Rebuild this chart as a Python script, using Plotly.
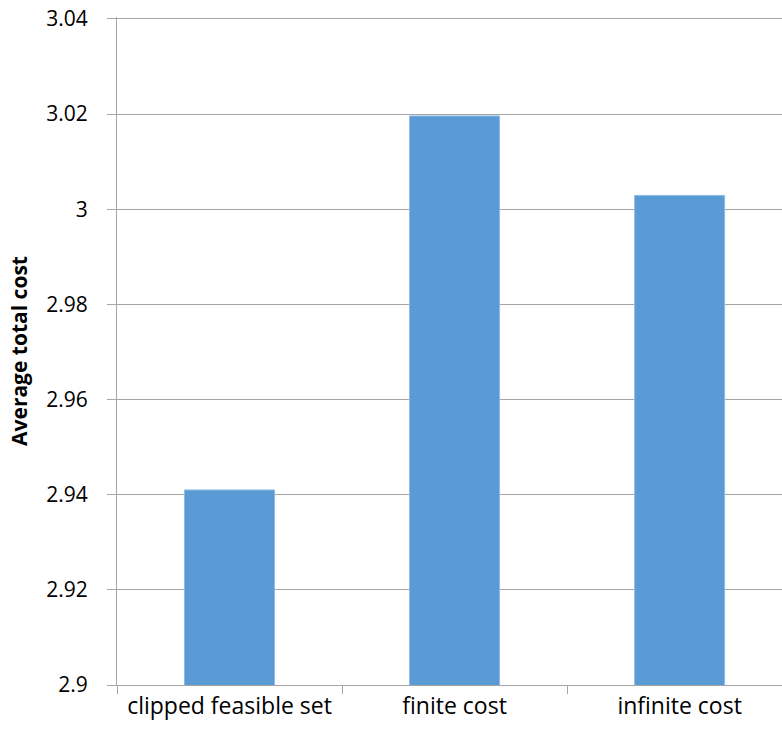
import plotly.graph_objects as go

categories = ["clipped feasible set", "finite cost", "infinite cost"]
values = [2.941, 3.0196, 3.0029]
y_tick_vals = [2.9, 2.92, 2.94, 2.96, 2.98, 3.0, 3.02, 3.04]
y_tick_text = ["2.9", "2.92", "2.94", "2.96", "2.98", "3", "3.02", "3.04"]
y_title = "Average total cost"

FONT = "Open Sans, Lato, sans-serif"
GRID = "#a6a6a6"

fig = go.Figure(go.Bar(
    x=categories, y=values,
    marker=dict(color="#5b9bd5", line=dict(color="#8dbbe6", width=1)),
    width=0.4,
))

fig.update_layout(
    width=782, height=734,
    margin=dict(l=117, r=0, t=17, b=49, autoexpand=False),
    plot_bgcolor="white", paper_bgcolor="white",
    showlegend=False,
    font=dict(family=FONT, size=22, color="black"),
)
fig.update_xaxes(
    type="category",
    range=[-0.5, 2.455],
    tickson="boundaries",
    ticks="outside", ticklen=8, tickcolor=GRID, tickwidth=1,
    showline=True, linecolor=GRID, linewidth=1,
    showgrid=False,
    tickfont=dict(family=FONT, size=23, color="black"),
)
fig.update_yaxes(
    range=[2.9, 3.0404],
    tickmode="array", tickvals=y_tick_vals, ticktext=y_tick_text,
    ticks="outside", ticklen=9, tickcolor=GRID, tickwidth=1,
    ticklabelstandoff=15,
    showline=True, linecolor=GRID, linewidth=1,
    showgrid=True, gridcolor=GRID, gridwidth=1,
    zeroline=False,
    tickfont=dict(family=FONT, size=21, color="black"),
    title=dict(text="<b>" + y_title + "</b>", font=dict(family=FONT, size=21, color="black"), standoff=12),
)

fig.write_html(
    "out.html",
    config={"displayModeBar": False},
    post_script="document.body.style.margin='0';document.body.style.overflow='hidden';",
)
